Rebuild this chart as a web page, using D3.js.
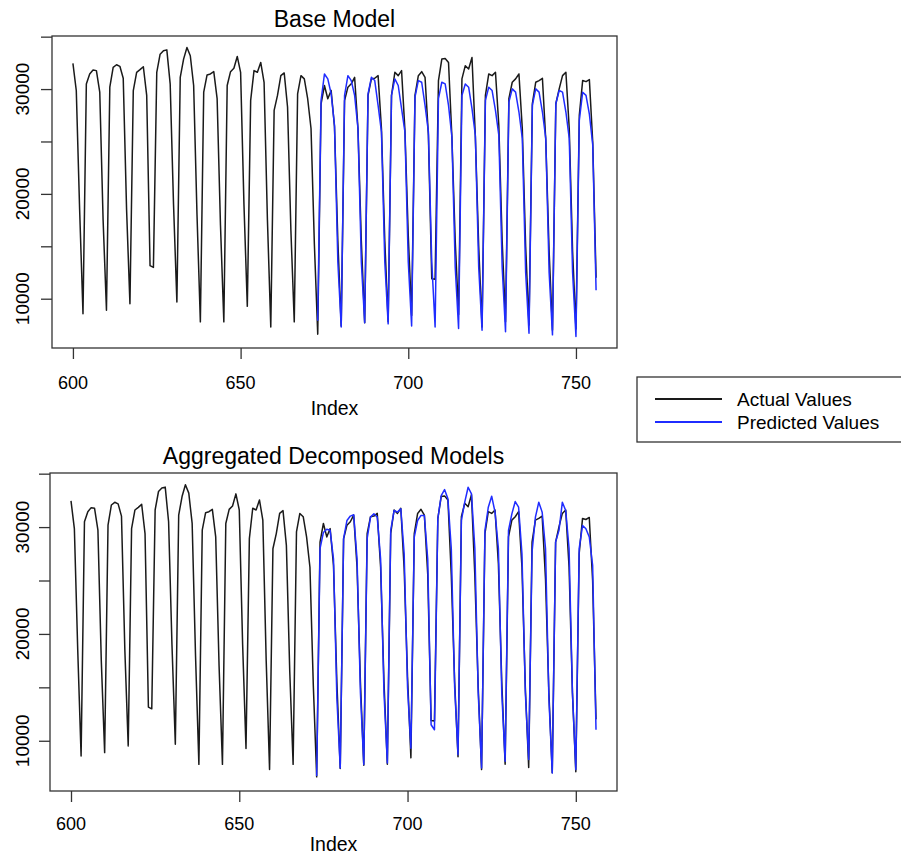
<!DOCTYPE html>
<html>
<head>
<meta charset="utf-8">
<script src="https://cdn.jsdelivr.net/npm/d3@7/dist/d3.min.js"></script>
<style>
  body { margin: 0; background: #fff; }
  text { font-family: "Liberation Sans", Arial, Helvetica, sans-serif; fill: #000; }
</style>
</head>
<body>
<svg id="chart" width="901" height="855"></svg>
<script>
// index of the first actual value and of the first prediction
var startIndex = 600;
var predStart = 673;

// actual values, index 600..756
var actual = [
  32450, 29860, 18500, 8570,
  30490, 31440, 31820, 31760, 29710, 17500, 8890,
  30180, 32070, 32320, 32170, 31030, 18500, 9520,
  29860, 31600, 31850, 32130, 29390, 13150, 12990,
  31600, 33330, 33650, 33740, 30500, 19000, 9680,
  31120, 32860, 33960, 33180, 30340, 18000, 7790,
  29710, 31350, 31440, 31660, 29080, 17000, 7790,
  30340, 31660, 31980, 33110, 31600, 19000, 9270,
  28920, 31760, 31600, 32540, 30650, 17500, 7310,
  27970, 29390, 31280, 31540, 28290, 16500, 7790,
  29550, 31280, 30970, 29080, 26240, 15200, 6620,
  28600, 30340, 29080, 29860, 26400, 15500, 7400,
  28900, 30180, 30500, 31120, 26240, 15500, 7700,
  29390, 30970, 31030, 31280, 26240, 15500, 7800,
  29390, 31600, 31280, 31760, 26080, 16000, 8400,
  29390, 31280, 31660, 31120, 25600, 11900, 11850,
  30800, 32860, 32920, 32540, 25500, 15500, 8500,
  30970, 32230, 31910, 33020, 25450, 15000, 7300,
  29390, 31440, 31280, 31600, 26550, 15500, 7800,
  29080, 30650, 30970, 31440, 26240, 15000, 7500,
  28600, 30650, 30810, 31030, 25130, 14500, 7000,
  28600, 30020, 31280, 31600, 26240, 14500, 7100,
  27500, 30810, 30710, 30900, 24970, 12000
];

// base model predictions, index 673..756
var predBase = [
  7900,
  28920, 31440, 30970, 29550, 26550, 13500, 7300,
  29390, 31280, 30810, 29390, 26240, 13500, 7700,
  29550, 31120, 30810, 28440, 25920, 13500, 7600,
  29390, 30970, 30340, 28130, 25920, 13500, 7400,
  29230, 30810, 30650, 28440, 25920, 13500, 7300,
  29080, 30650, 30490, 28440, 25450, 13000, 7150,
  29390, 30490, 30180, 28130, 25600, 13000, 7000,
  28920, 30180, 29860, 27970, 25600, 13000, 6850,
  28760, 30020, 29710, 27810, 25290, 12500, 6700,
  28440, 30020, 29710, 27810, 25290, 12500, 6550,
  28600, 29860, 29710, 27810, 25290, 12500, 6400,
  27000, 29700, 29400, 27600, 24700, 10800
];

// aggregated decomposed model predictions, index 673..756
var predAgg = [
  6700,
  27980, 29500, 29800, 29700, 27000, 14000, 7450,
  28910, 30620, 31030, 31150, 27000, 14500, 7770,
  28910, 30930, 31240, 30930, 27000, 14500, 7920,
  29690, 31550, 31400, 31710, 27500, 15000, 9300,
  29070, 30620, 31090, 31090, 27000, 11500, 11030,
  30780, 32950, 33510, 32640, 28000, 15000, 8700,
  30620, 32330, 33730, 33110, 28000, 14500, 7450,
  29690, 31860, 32890, 31400, 28000, 14500, 8080,
  29690, 31240, 32390, 31860, 27500, 14500, 8240,
  27670, 30930, 32330, 31400, 28000, 14000, 6990,
  28600, 29690, 32330, 31550, 28000, 14500, 7300,
  27980, 30150, 29840, 29070, 26420, 11030
];

var xTicks = [600, 650, 700, 750];
var yTicks = [10000, 15000, 20000, 25000, 30000, 35000];
var yLabels = [10000, 20000, 30000];
var legendNames = ["Actual Values", "Predicted Values"];

var svg = d3.select("#chart");
svg.append("rect").attr("width", 901).attr("height", 855).attr("fill", "#fff");

//R style limits: data range widened by 4% on each side
function padRange(ext) {
  var r = ext[1] - ext[0];
  return [ext[0] - 0.04 * r, ext[1] + 0.04 * r];
};

var xDomain = padRange([startIndex, startIndex + actual.length - 1]);
var yDomain = padRange(d3.extent(actual.concat(predBase, predAgg)));

/* @drawPanel(box, title, pred)
  - one R style plot: box, ticks, labels, actual line then predicted line
  - box.tickY / box.labY are the baselines of tick labels and "Index"
*/
function drawPanel(box, title, pred) {
  var x = d3.scaleLinear().domain(xDomain).range([box.left, box.right]);
  var y = d3.scaleLinear().domain(yDomain).range([box.bottom, box.top]);

  var g = svg.append("g");

  //ticks only, the box draws the axis lines
  var xAxis = g.append("g")
    .attr("transform", "translate(0," + box.bottom + ")")
    .call(d3.axisBottom(x).tickValues(xTicks).tickSize(11).tickFormat(""));
  var yAxis = g.append("g")
    .attr("transform", "translate(" + box.left + ",0)")
    .call(d3.axisLeft(y).tickValues(yTicks).tickSize(11).tickFormat(""));
  [xAxis, yAxis].forEach(function(a) {
    a.select(".domain").remove();
    a.selectAll("line").attr("stroke", "#333").attr("stroke-width", 1.3);
  });

  g.selectAll(".xlab")
    .data(xTicks)
    .enter()
    .append("text")
      .attr("x", function(d) { return x(d); })
      .attr("y", box.tickY)
      .attr("text-anchor", "middle")
      .style("font-size", "18px")
      .text(function(d) { return d; });

  g.selectAll(".ylab")
    .data(yLabels)
    .enter()
    .append("text")
      .attr("transform", function(d) { return "translate(29," + y(d) + ") rotate(-90)"; })
      .attr("text-anchor", "middle")
      .style("font-size", "19px")
      .text(function(d) { return d; });

  g.append("text")
    .attr("x", (box.left + box.right) / 2)
    .attr("y", box.labY)
    .attr("text-anchor", "middle")
    .style("font-size", "19.5px")
    .text("Index");

  g.append("text")
    .attr("x", (box.left + box.right) / 2)
    .attr("y", box.top - 9)
    .attr("text-anchor", "middle")
    .style("font-size", "23px")
    .text(title);

  var line = d3.line()
    .x(function(d) { return x(d.i); })
    .y(function(d) { return y(d.v); });

  var act = actual.map(function(v, k) { return {i: startIndex + k, v: v}; });
  var prd = pred.map(function(v, k) { return {i: predStart + k, v: v}; });

  g.append("path")
    .datum(act)
    .attr("d", line)
    .attr("fill", "none")
    .attr("stroke", "#1a1a1a")
    .attr("stroke-width", 1.5)
    .attr("stroke-linejoin", "round");

  g.append("path")
    .datum(prd)
    .attr("d", line)
    .attr("fill", "none")
    .attr("stroke", "#1f2cff")
    .attr("stroke-width", 1.5)
    .attr("stroke-linejoin", "round");

  g.append("rect")
    .attr("x", box.left)
    .attr("y", box.top)
    .attr("width", box.right - box.left)
    .attr("height", box.bottom - box.top)
    .attr("fill", "none")
    .attr("stroke", "#333")
    .attr("stroke-width", 1.3);
};

drawPanel({left: 52, right: 617, top: 36, bottom: 348, tickY: 389, labY: 415}, "Base Model", predBase);
drawPanel({left: 50, right: 617, top: 473, bottom: 791, tickY: 830, labY: 851}, "Aggregated Decomposed Models", predAgg);

//legend between the panels
var legend = svg.append("g");
legend.append("rect")
  .attr("x", 637).attr("y", 377)
  .attr("width", 280).attr("height", 65)
  .attr("fill", "#fff")
  .attr("stroke", "#333")
  .attr("stroke-width", 1.3);

legend.selectAll("line")
  .data(legendNames)
  .enter()
  .append("line")
    .attr("x1", 655).attr("x2", 722)
    .attr("y1", function(d, i) { return 399 + i * 23; })
    .attr("y2", function(d, i) { return 399 + i * 23; })
    .attr("stroke", function(d, i) { return i == 0 ? "#1a1a1a" : "#1f2cff"; })
    .attr("stroke-width", 2);

legend.selectAll("text")
  .data(legendNames)
  .enter()
  .append("text")
    .attr("x", 737)
    .attr("y", function(d, i) { return 406 + i * 23; })
    .style("font-size", "19px")
    .text(function(d) { return d; });
</script>
</body>
</html>
